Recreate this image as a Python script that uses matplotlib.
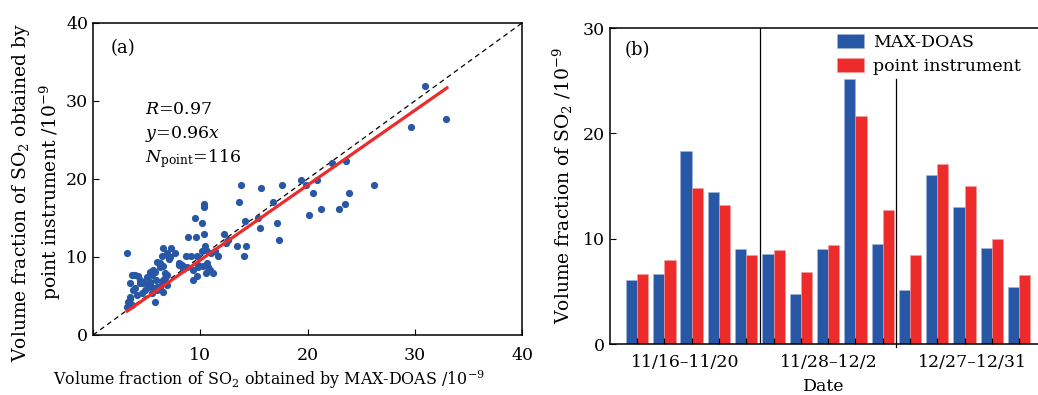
import matplotlib
matplotlib.use("Agg")
import matplotlib.pyplot as plt
import numpy as np

plt.rcParams['font.family'] = ['DejaVu Serif']
plt.rcParams['mathtext.fontset'] = 'dejavuserif'

# ---------------- data: panel (a) ----------------
maxdoas = [30.97, 32.87, 29.69, 26.17, 22.27, 23.61, 19.35, 19.88, 20.90, 20.47, 23.86, 20.12, 21.25, 22.93, 23.46,
           13.83, 15.67, 17.63, 13.61, 16.79, 14.17, 15.42, 15.61, 17.17, 17.32, 13.43, 14.24, 14.08,
           10.31, 10.31, 9.53, 10.13, 8.88, 9.63, 10.34, 12.24, 12.36, 12.55, 10.44, 10.13, 10.53, 11.00, 11.37, 11.68,
           8.67, 9.13, 9.66, 9.82, 10.22, 10.68, 10.90, 10.53, 11.15, 9.81, 9.35, 9.35, 9.72, 8.79, 7.99, 8.27, 8.43, 8.04, 10.60,
           6.55, 7.27, 7.64, 7.00, 6.40, 6.87, 7.18, 7.10, 6.24, 6.55, 6.24, 6.71, 6.87, 6.71, 6.40, 6.55, 6.24, 6.87, 6.55, 5.93, 5.94, 5.94,
           3.20, 3.60, 3.91, 4.22, 3.45, 3.45, 3.29, 3.60, 3.14, 3.45, 3.91, 4.07, 4.38, 4.69, 4.54, 4.85, 5.00, 5.31, 5.78, 5.16,
           5.62, 5.47, 5.78, 5.31, 5.47, 5.62, 4.38, 4.69, 5.31, 5.87, 3.76]
point_inst = [31.87, 27.68, 26.61, 19.21, 22.03, 22.37, 19.89, 19.21, 19.89, 18.18, 18.18, 15.36, 16.09, 16.09, 16.81,
              19.21, 18.87, 19.21, 17.11, 17.11, 14.63, 15.02, 13.78, 14.33, 12.19, 11.47, 11.47, 10.10,
              16.77, 16.43, 15.02, 14.32, 12.53, 12.53, 12.92, 12.92, 11.75, 12.18, 11.45, 10.77, 10.90, 10.47, 10.77, 10.09,
              10.09, 10.09, 10.09, 8.68, 8.85, 8.68, 8.33, 7.99, 7.99, 8.97, 8.33, 7.05, 7.60, 8.76, 8.97, 8.97, 8.50, 9.27, 9.19,
              11.11, 11.11, 10.47, 10.09, 10.09, 10.47, 10.04, 9.70, 9.27, 8.85, 8.76, 7.99, 7.69, 7.26, 6.84, 7.05, 6.20, 6.41, 5.56, 5.77, 9.40, 6.20,
              10.47, 7.69, 7.69, 7.60, 6.62, 4.91, 4.27, 3.85, 3.63, 4.57, 5.98, 5.13, 6.62, 6.84, 5.35, 5.77, 7.47, 8.12, 8.12, 6.20,
              5.98, 5.35, 4.27, 6.84, 7.69, 8.33, 7.05, 6.62, 6.62, 7.05, 5.77]
fit_slope = 0.96
fit_range = [3.2, 33.0]
stats_text = ["$R$=0.97", "$y$=0.96$x$", "$N_{\\rm point}$=116"]

# ---------------- data: panel (b) ----------------
bar_maxdoas = [6.08, 6.65, 18.35, 14.40, 9.05, 8.54, 4.78, 9.05, 25.2, 9.53, 5.09, 16.0, 13.0, 9.15, 5.41]
bar_point = [6.68, 7.94, 14.78, 13.23, 8.42, 8.96, 6.84, 9.37, 21.6, 12.75, 8.48, 17.1, 15.03, 9.94, 6.58]
period_labels = ["11/16\u201311/20", "11/28\u201312/2", "12/27\u201312/31"]
period_label_pos = [1.76, 7.03, 12.3]

blue = '#2857A6'
red = '#EE2B2B'

fig = plt.figure(figsize=(10.38, 3.95), dpi=100)

# ---------- panel (a) ----------
axa = fig.add_axes([0.0896, 0.1519, 0.4133, 0.7899])
axa.plot([0, 40], [0, 40], ls=(0, (4, 3)), color='black', lw=0.9)
axa.scatter(maxdoas, point_inst, s=27, color=blue, zorder=3, linewidths=0)
fx = np.array(fit_range)
axa.plot(fx, fit_slope * fx, color=red, lw=2.3, zorder=4)
axa.set_xlim(0, 40)
axa.set_ylim(0, 40)
axa.set_xticks([0, 10, 20, 30, 40])
axa.set_xticklabels(['', '10', '20', '30', '40'])
axa.set_yticks([0, 10, 20, 30, 40])
axa.tick_params(direction='in', length=4, labelsize=12.5, width=0.8)
axa.tick_params(axis='x', pad=9)
axa.set_xlabel("Volume fraction of SO$_2$ obtained by MAX-DOAS /10$^{-9}$", fontsize=11.4)
axa.xaxis.set_label_coords(0.41, -0.108)
axa.set_ylabel("Volume fraction of SO$_2$ obtained by\npoint instrument /10$^{-9}$", fontsize=13.5,
               linespacing=1.3)
axa.yaxis.set_label_coords(-0.071, 0.458)
axa.text(0.04, 0.905, "(a)", transform=axa.transAxes, fontsize=13)
for i, t in enumerate(stats_text):
    axa.text(0.121, 0.722 - i * 0.0785, t, transform=axa.transAxes, fontsize=12.5, va='center')
for sp in axa.spines.values():
    sp.set_linewidth(1.1)

# ---------- panel (b) ----------
axb = fig.add_axes([0.5877, 0.1291, 0.4123, 0.80])
x = np.arange(len(bar_maxdoas))
w = 0.41
axb.bar(x - w / 2, bar_maxdoas, width=w, color=blue, label='MAX-DOAS', edgecolor='#9fb5dd', linewidth=0.4)
axb.bar(x + w / 2, bar_point, width=w, color=red, label='point instrument', edgecolor='#f5a0a0', linewidth=0.4)
axb.axvline(4.52, color='black', lw=0.9)
axb.plot([9.48, 9.48], [-0.25, 25.2], color='black', lw=0.9, clip_on=False)
axb.set_xlim(-0.99, 14.69)
axb.set_ylim(0, 30)
axb.set_yticks([0, 10, 20, 30])
axb.set_xticks(x)
axb.set_xticklabels([''] * len(x))
axb.set_xticks(period_label_pos, minor=True)
axb.set_xticklabels(period_labels, minor=True)
axb.tick_params(axis='x', which='minor', length=0, pad=7, labelsize=12.5)
axb.tick_params(axis='both', which='major', direction='in', length=4, labelsize=12.5, width=0.8)
axb.spines['right'].set_visible(False)
for sp in axb.spines.values():
    sp.set_linewidth(1.1)
axb.set_xlabel("Date", fontsize=12.5, labelpad=5)
axb.set_ylabel("Volume fraction of SO$_2$ /10$^{-9}$", fontsize=13.5, labelpad=6)
axb.text(0.035, 0.915, "(b)", transform=axb.transAxes, fontsize=13)
axb.legend(loc='upper right', bbox_to_anchor=(0.984, 1.015), frameon=False, fontsize=12.5,
           handlelength=1.6, handleheight=0.85, handletextpad=0.5, labelspacing=0.4, borderaxespad=0.2)

fig.savefig("out.png", dpi=100)
